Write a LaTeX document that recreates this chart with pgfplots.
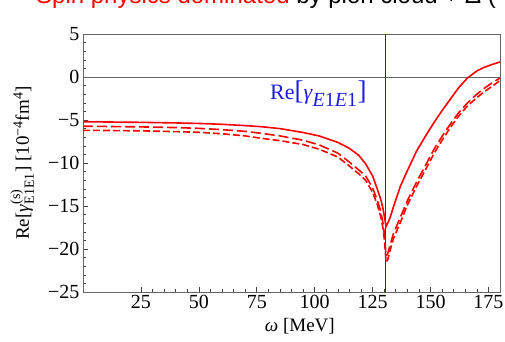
\documentclass[border=0pt]{standalone}
\usepackage{fontspec}
\setmainfont{Liberation Serif}
\newfontfamily\titlefont{Liberation Sans}
\usepackage{pgfplots}
\usepackage{pgfplotstable}
\pgfplotsset{compat=1.18}

\definecolor{curvered}{RGB}{255,0,0}
\definecolor{labelblue}{RGB}{30,30,225}
\definecolor{pionline}{RGB}{40,40,140}
\definecolor{framegray}{RGB}{100,100,100}

% omega [MeV], full result (s), two dashed variants (a, b)
\pgfplotstableread{
w      s      a       b
0     -5.20  -5.72   -6.20
10    -5.23  -5.75   -6.22
25    -5.27  -5.80   -6.26
40    -5.34  -5.88   -6.35
50    -5.40  -5.97   -6.43
60    -5.50  -6.12   -6.60
70    -5.65  -6.32   -6.85
77    -5.78  -6.55   -7.13
85    -6.00  -6.85   -7.40
95    -6.45  -7.35   -7.85
102   -6.86  -7.90   -8.40
110   -7.60  -8.85   -9.30
115   -8.30  -9.90   -10.35
119   -9.10  -10.80  -11.25
122   -10.10 -11.50  -12.00
125   -11.50 -12.90  -13.40
127   -13.00 -14.30  -14.80
128.5 -14.20 -15.60  -16.20
129.5 -15.30 -17.00  -17.60
130.2 -16.40 -18.50  -19.20
130.8 -17.40 -20.80  -21.50
131.5 -17.00 -20.60  -21.30
132.5 -16.40 -19.60  -20.20
134   -15.10 -18.20  -18.80
137   -12.70 -16.30  -16.90
140   -10.90 -14.40  -14.90
144   -8.60  -12.20  -12.70
148   -6.80  -10.20  -10.70
151.5 -5.30  -8.40   -8.90
155   -3.90  -6.90   -7.35
158.5 -2.60  -5.50   -5.90
162   -1.30  -4.20   -4.60
166   -0.10  -3.00   -3.35
170    0.70  -2.00   -2.40
173    1.10  -1.35   -1.75
176.5  1.45  -0.70   -1.10
180    1.75  -0.12   -0.42
}\gammaEE

\begin{document}
\begin{tikzpicture}
\useasboundingbox (-83pt,-49pt) rectangle (422pt,292pt);
\clip (-83pt,-49pt) rectangle (422pt,292pt);
\begin{axis}[
  at={(0pt,0pt)}, anchor=south west,
  scale only axis, width=417pt, height=258pt,
  xmin=0, xmax=180, ymin=-25, ymax=5,
  axis line style={framegray, line width=0.8pt},
  xtick={25,50,...,175}, minor x tick num=4,
  ytick={-25,-20,...,5},
  yticklabels={−25,−20,−15,−10,−5,0,5},
  minor y tick num=4,
  tick align=inside, xtick pos=bottom, ytick pos=left,
  major tick length=5pt, minor tick length=3pt,
  tick style={black!75, line width=0.6pt},
  ticklabel style={font=\fontsize{20}{20}\selectfont},
  /pgf/number format/assume math mode=true,
  xlabel={\textit{ω} [MeV]},
  xlabel style={font=\fontsize{19}{19}\selectfont, at={(axis description cs:0.52,0)}, anchor=base, yshift=-39pt},
  ylabel={Re[$\mbox{\textit{γ}}^{\mbox{\fontsize{14}{14}\selectfont(s)}}_{\mbox{\fontsize{14}{14}\selectfont E1E1}}$] [10$^{\mbox{\fontsize{14}{14}\selectfont −4}}$fm$^{\mbox{\fontsize{14}{14}\selectfont 4}}$]},
  ylabel style={font=\fontsize{19}{19}\selectfont, at={(axis description cs:-0.146,0.5)}, anchor=center},
  clip=true,
]
\draw[framegray, line width=0.7pt] (axis cs:0,0) -- (axis cs:180,0);
\draw[pionline, line width=0.8pt] (axis cs:130.5,-25) -- (axis cs:130.5,5);
\addplot[curvered, line width=1.6pt] table[x=w, y=s] {\gammaEE};
\addplot[curvered, line width=1.6pt, dash pattern=on 10pt off 4pt] table[x=w, y=a] {\gammaEE};
\addplot[curvered, line width=1.6pt, dash pattern=on 7pt off 3pt] table[x=w, y=b] {\gammaEE};
\node[labelblue, anchor=base west, font=\fontsize{22}{22}\selectfont, inner sep=0pt] at (axis cs:80.7,-2.67)
  {Re{\fontsize{27}{27}\selectfont[}\textit{γ}\textsubscript{\fontsize{20}{20}\selectfont\textit{E}1\textit{E}1}{\fontsize{27}{27}\selectfont]}};
\node[anchor=base, font=\fontsize{18}{18}\selectfont, yshift=11pt] at (axis cs:130.5,5)
  {\textit{ω}\textsubscript{\fontsize{13}{13}\selectfont\textit{π}}};
\end{axis}
% heading line above the panel
\node[anchor=base west, font=\titlefont\fontsize{24}{24}\selectfont, inner sep=0pt] at (-47pt,288pt)
  {\textcolor{red}{Spin physics dominated} by pion cloud + Δ (};
\end{tikzpicture}
\end{document}
